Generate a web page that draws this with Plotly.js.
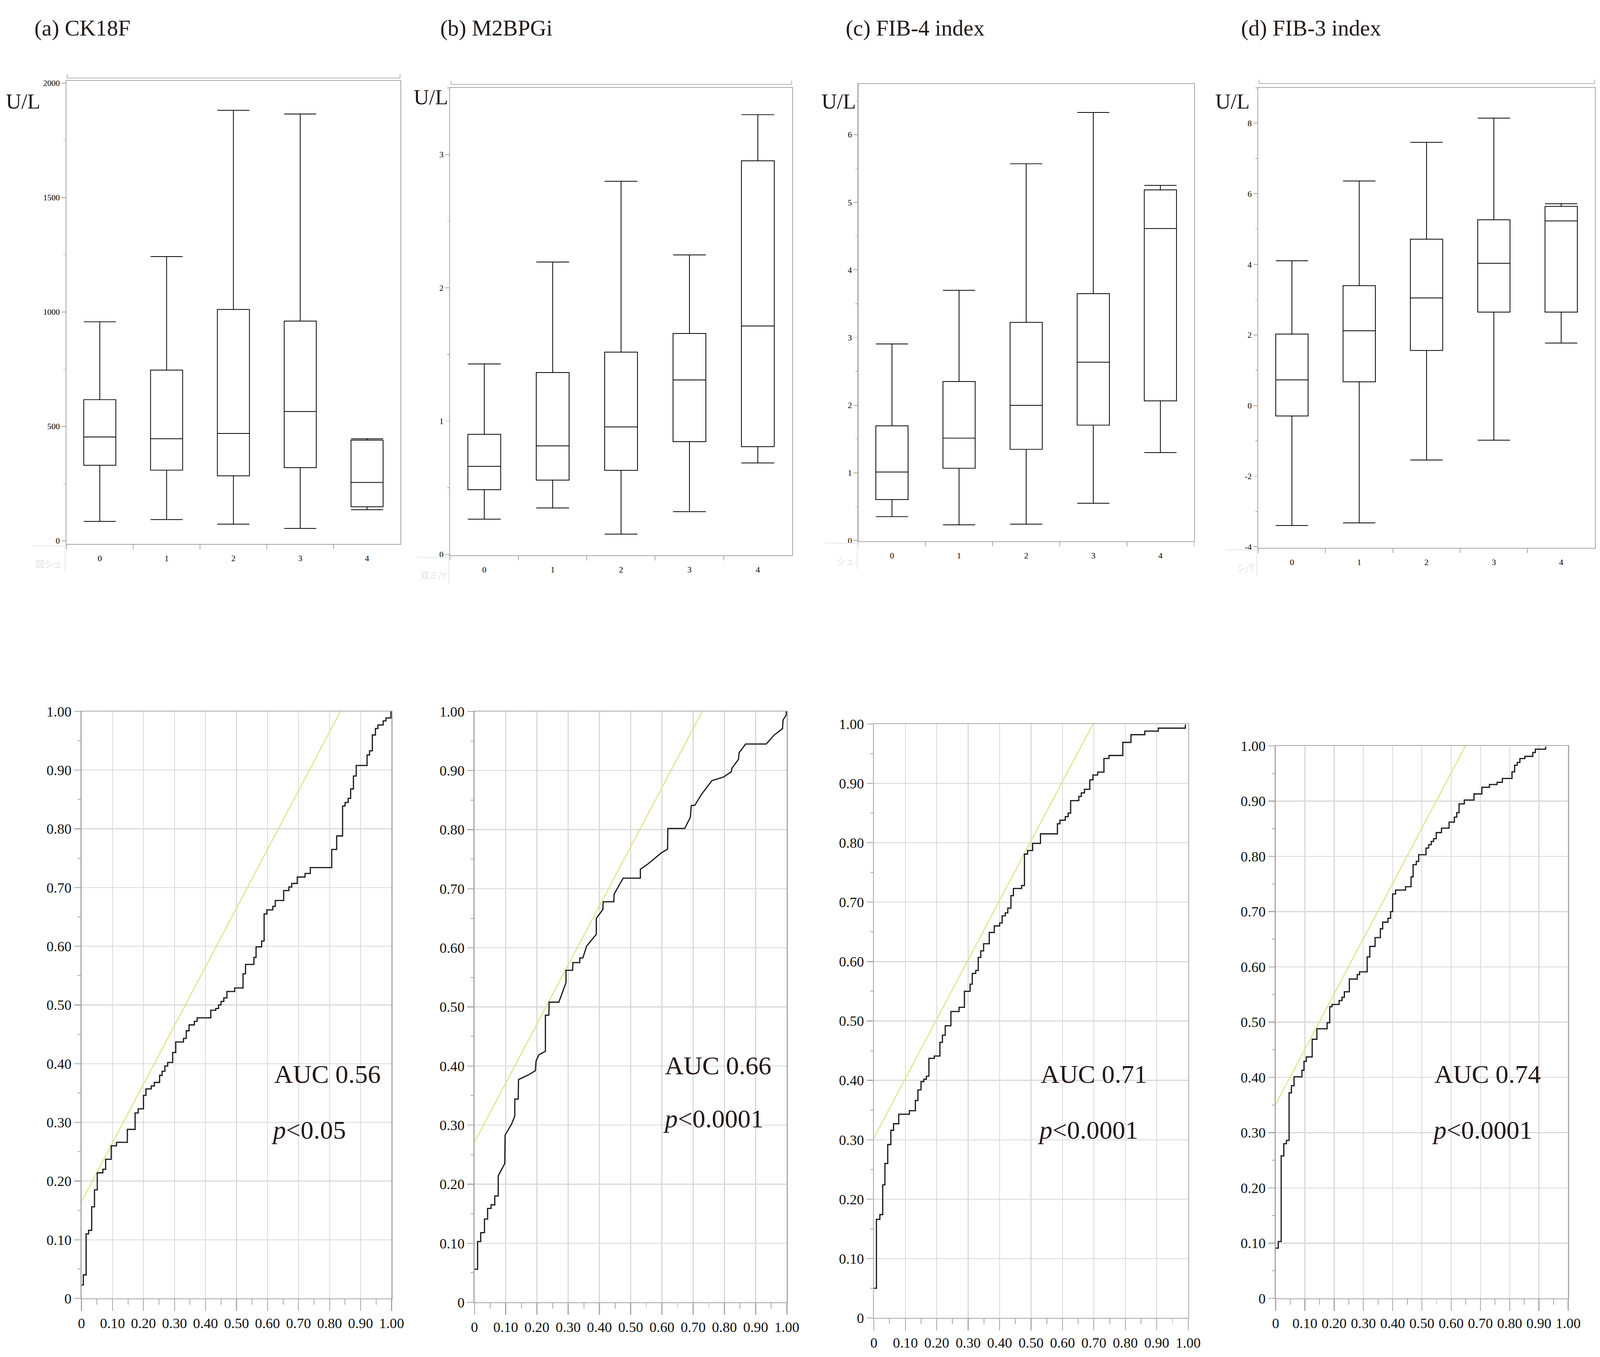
<!DOCTYPE html>
<html>
<head>
<meta charset="utf-8">
<script src="https://cdn.plot.ly/plotly-3.0.1.min.js"></script>
<style>html,body{margin:0;padding:0;background:#fff;overflow:hidden;}#chart{position:absolute;left:0;top:0;}</style>
</head>
<body>
<div id="chart"></div>
<script>
// ---------------- DATA ----------------
const stages = ['0', '1', '2', '3', '4'];
const panelTitles = ['(a) CK18F', '(b) M2BPGi', '(c) FIB-4 index', '(d) FIB-3 index'];
const unitLabel = 'U/L';
const cornerLabels = ['図シェ', '双ミ/т', 'シェ', 'シ/T'];

// (a) CK18F
const ck18f_low = [85, 93, 73, 54, 136];
const ck18f_q1 = [330, 309, 284, 320, 149];
const ck18f_med = [454, 446, 469, 565, 255];
const ck18f_q3 = [617, 746, 1011, 960, 440];
const ck18f_high = [957, 1242, 1881, 1865, 446];
// (b) M2BPGi
const m2bpgi_low = [0.265, 0.349, 0.153, 0.321, 0.687];
const m2bpgi_q1 = [0.486, 0.558, 0.631, 0.846, 0.809];
const m2bpgi_med = [0.661, 0.815, 0.957, 1.309, 1.714];
const m2bpgi_q3 = [0.901, 1.365, 1.518, 1.658, 2.953];
const m2bpgi_high = [1.429, 2.194, 2.799, 2.247, 3.299];
// (c) FIB-4 index
const fib4_low = [0.352, 0.231, 0.242, 0.550, 1.299];
const fib4_q1 = [0.605, 1.068, 1.348, 1.706, 2.064];
const fib4_med = [1.013, 1.514, 1.998, 2.636, 4.612];
const fib4_q3 = [1.695, 2.350, 3.225, 3.649, 5.184];
const fib4_high = [2.906, 3.698, 5.570, 6.329, 5.250];
// (d) FIB-3 index
const fib3_low = [-3.397, -3.323, -1.540, -0.981, 1.772];
const fib3_q1 = [-0.295, 0.675, 1.561, 2.648, 2.648];
const fib3_med = [0.728, 2.120, 3.049, 4.030, 5.232];
const fib3_q3 = [2.025, 3.397, 4.715, 5.264, 5.643];
const fib3_high = [4.103, 6.361, 7.458, 8.143, 5.717];

// box y-axis tick labels
const ck18f_ticks = [0, 500, 1000, 1500, 2000];
const m2bpgi_ticks = [0, 1, 2, 3];
const fib4_ticks = [0, 1, 2, 3, 4, 5, 6];
const fib3_ticks = [-4, -2, 0, 2, 4, 6, 8];
const fib3_ticktext = ['-4', '-2', '0', '2', '4', '6', '8'];

// ROC curves (1 - specificity, sensitivity)
const rocA_fpr = [0, 0.006, 0.015, 0.023, 0.033, 0.042, 0.051, 0.069, 0.078, 0.096,
  0.113, 0.148, 0.173, 0.183, 0.2, 0.208, 0.225, 0.235, 0.252, 0.26,
  0.269, 0.278, 0.294, 0.304, 0.329, 0.338, 0.347, 0.364, 0.373, 0.417,
  0.433, 0.442, 0.45, 0.459, 0.469, 0.494, 0.521, 0.529, 0.556, 0.563,
  0.581, 0.589, 0.598, 0.617, 0.625, 0.652, 0.669, 0.678, 0.696, 0.721,
  0.738, 0.807, 0.823, 0.842, 0.85, 0.86, 0.868, 0.877, 0.886, 0.921,
  0.929, 0.938, 0.948, 0.956, 0.973, 0.982, 0.998];
const rocA_tpr = [0.023, 0.04, 0.11, 0.116, 0.156, 0.185, 0.214, 0.22, 0.237, 0.26,
  0.266, 0.288, 0.316, 0.323, 0.346, 0.357, 0.362, 0.368, 0.38, 0.387,
  0.396, 0.402, 0.419, 0.437, 0.443, 0.456, 0.466, 0.472, 0.478, 0.491,
  0.494, 0.5, 0.506, 0.512, 0.523, 0.529, 0.553, 0.569, 0.581, 0.599,
  0.609, 0.655, 0.662, 0.668, 0.678, 0.695, 0.701, 0.707, 0.718, 0.724,
  0.734, 0.765, 0.788, 0.839, 0.845, 0.852, 0.868, 0.89, 0.908, 0.926,
  0.933, 0.96, 0.971, 0.977, 0.984, 0.989, 1.0];

const rocB_fpr = [0, 0.01, 0.01, 0.02, 0.02, 0.032, 0.032, 0.042, 0.042, 0.053,
  0.053, 0.065, 0.065, 0.076, 0.076, 0.097, 0.098, 0.119, 0.129, 0.129,
  0.14, 0.141, 0.173, 0.195, 0.197, 0.206, 0.227, 0.227, 0.238, 0.239,
  0.27, 0.293, 0.293, 0.314, 0.315, 0.337, 0.337, 0.347, 0.359, 0.39,
  0.39, 0.411, 0.412, 0.446, 0.447, 0.476, 0.531, 0.531, 0.553, 0.599,
  0.618, 0.619, 0.673, 0.691, 0.694, 0.705, 0.727, 0.76, 0.797, 0.822,
  0.824, 0.845, 0.847, 0.868, 0.934, 0.959, 0.986, 0.988, 0.998, 0.998];
const rocB_tpr = [0.056, 0.056, 0.103, 0.103, 0.118, 0.118, 0.141, 0.141, 0.159, 0.159,
  0.165, 0.165, 0.18, 0.18, 0.214, 0.235, 0.283, 0.302, 0.315, 0.344,
  0.344, 0.377, 0.385, 0.392, 0.408, 0.419, 0.425, 0.486, 0.486, 0.508,
  0.508, 0.541, 0.562, 0.562, 0.575, 0.575, 0.583, 0.583, 0.603, 0.623,
  0.65, 0.665, 0.678, 0.678, 0.691, 0.718, 0.718, 0.733, 0.741, 0.761,
  0.767, 0.802, 0.802, 0.821, 0.841, 0.841, 0.86, 0.883, 0.889, 0.898,
  0.904, 0.919, 0.93, 0.945, 0.945, 0.96, 0.971, 0.986, 0.994, 1.0];

const rocC_fpr = [0, 0.008, 0.019, 0.028, 0.035, 0.044, 0.054, 0.0625, 0.079, 0.113,
  0.132, 0.14, 0.15, 0.159, 0.167, 0.175, 0.192, 0.21, 0.218, 0.227,
  0.245, 0.271, 0.288, 0.306, 0.313, 0.324, 0.332, 0.34, 0.349, 0.367,
  0.383, 0.4, 0.408, 0.418, 0.426, 0.436, 0.444, 0.47, 0.479, 0.489,
  0.505, 0.53, 0.584, 0.592, 0.609, 0.618, 0.626, 0.652, 0.66, 0.67,
  0.687, 0.697, 0.712, 0.732, 0.748, 0.792, 0.818, 0.862, 0.905, 0.991];
const rocC_tpr = [0.05, 0.166, 0.174, 0.224, 0.26, 0.292, 0.316, 0.327, 0.343, 0.349,
  0.366, 0.384, 0.398, 0.402, 0.407, 0.437, 0.441, 0.464, 0.476, 0.492,
  0.516, 0.523, 0.55, 0.562, 0.58, 0.585, 0.607, 0.618, 0.63, 0.649,
  0.66, 0.665, 0.677, 0.682, 0.69, 0.711, 0.723, 0.728, 0.781, 0.787,
  0.799, 0.815, 0.832, 0.838, 0.844, 0.85, 0.871, 0.878, 0.884, 0.89,
  0.906, 0.914, 0.919, 0.942, 0.947, 0.969, 0.982, 0.988, 0.993, 0.999];

const rocD_fpr = [0, 0.009, 0.019, 0.028, 0.037, 0.046, 0.054, 0.063, 0.09, 0.097,
  0.105, 0.125, 0.141, 0.176, 0.185, 0.193, 0.217, 0.227, 0.235, 0.252,
  0.279, 0.287, 0.313, 0.322, 0.34, 0.358, 0.366, 0.384, 0.393, 0.4,
  0.41, 0.444, 0.463, 0.47, 0.481, 0.489, 0.514, 0.523, 0.532, 0.54,
  0.549, 0.567, 0.593, 0.611, 0.619, 0.627, 0.645, 0.678, 0.705, 0.731,
  0.757, 0.775, 0.808, 0.817, 0.826, 0.835, 0.852, 0.879, 0.888, 0.923];
const rocD_tpr = [0.091, 0.103, 0.258, 0.28, 0.286, 0.372, 0.385, 0.401, 0.413, 0.429,
  0.437, 0.469, 0.488, 0.499, 0.528, 0.532, 0.539, 0.545, 0.555, 0.578,
  0.586, 0.591, 0.618, 0.637, 0.653, 0.669, 0.681, 0.688, 0.7, 0.732,
  0.739, 0.745, 0.763, 0.785, 0.791, 0.803, 0.815, 0.821, 0.827, 0.832,
  0.843, 0.851, 0.862, 0.871, 0.879, 0.895, 0.902, 0.913, 0.925, 0.93,
  0.934, 0.941, 0.953, 0.965, 0.97, 0.977, 0.981, 0.988, 0.994, 0.999];

// reference (yellow) line intercepts: y = x + b
const refIntercepts = [0.165, 0.271, 0.303, 0.351];
const aucLabels = ['AUC 0.56', 'AUC 0.66', 'AUC 0.71', 'AUC 0.74'];
const pLabels = ['0.05', '0.0001', '0.0001', '0.0001'];

const rocTickVals = [0, 0.1, 0.2, 0.3, 0.4, 0.5, 0.6, 0.7, 0.8, 0.9, 1.0];
const rocTickText = ['0', '0.10', '0.20', '0.30', '0.40', '0.50', '0.60', '0.70', '0.80', '0.90', '1.00'];

// ---------------- LAYOUT ----------------
// design space is 7739 x 3475; the figure fills whatever viewport it gets
const W = 7739, H = 3475;
const VW = window.innerWidth || W, VH = window.innerHeight || H;
const sx = VW / W, sy = VH / H;
const ls = Math.max(0.6, (sx + sy) / 2);   // line scale
// font size: width-matched size when squeezed, compromise size otherwise
function fsz(widthBased, design) { return Math.min(widthBased * sx * 1.08, design * sy); }
document.getElementById('chart').style.width = VW + 'px';
document.getElementById('chart').style.height = VH + 'px';

const SERIF = 'Liberation Serif, Times New Roman, serif';
const TXT = '#231815';
const AX = '#a6a6a6';
function xd(a, b) { return [a / W, b / W]; }
function yd(t, b) { return [1 - b / H, 1 - t / H]; }
function px(v) { return v / W; }
function py(v) { return 1 - v / H; }

const F_TITLE = fsz(100, 92), F_UNIT = fsz(96, 96), F_BOXTICK = fsz(37.5, 34),
      F_ROCTICK = fsz(64, 58), F_AUC = fsz(116, 114), F_CORNER = fsz(40, 38);

const boxPanels = [
  {x: [321, 1937], y: [207, 1393], range: [-13.7, 2010], tv: ck18f_ticks, tt: ck18f_ticks.map(String), minor: 250,
   low: ck18f_low, q1: ck18f_q1, med: ck18f_med, q3: ck18f_q3, high: ck18f_high},
  {x: [2177, 3831], y: [225, 1422], range: [-0.006, 3.5], tv: m2bpgi_ticks, tt: m2bpgi_ticks.map(String), minor: 0.5,
   low: m2bpgi_low, q1: m2bpgi_q1, med: m2bpgi_med, q3: m2bpgi_q3, high: m2bpgi_high},
  {x: [4152, 5775], y: [215, 1386], range: [-0.011, 6.75], tv: fib4_ticks, tt: fib4_ticks.map(String), minor: 0.5,
   low: fib4_low, q1: fib4_q1, med: fib4_med, q3: fib4_q3, high: fib4_high},
  {x: [6086, 7714], y: [225, 1403], range: [-4.03, 9.0], tv: fib3_ticks, tt: fib3_ticktext, minor: 1,
   low: fib3_low, q1: fib3_q1, med: fib3_med, q3: fib3_q3, high: fib3_high}
];
const rocPanels = [
  {x: [394, 1894], y: [1822, 3325], fpr: rocA_fpr, tpr: rocA_tpr, shape: 'hv', aucX: 1322, pX: 1310},
  {x: [2295, 3806], y: [1822, 3335], fpr: rocB_fpr, tpr: rocB_tpr, shape: 'linear', aucX: 3212, pX: 3204},
  {x: [4227, 5747], y: [1854, 3375], fpr: rocC_fpr, tpr: rocC_tpr, shape: 'hv', aucX: 5029, pX: 5016},
  {x: [6170, 7585], y: [1910, 3325], fpr: rocD_fpr, tpr: rocD_tpr, shape: 'hv', aucX: 6935, pX: 6922}
];
const titleX = [162, 2125, 4087, 5999];
const titleMid = 72;                       // vertical centre of the title caps (design px)
const unitX = [25, 1997, 3969, 5875];
const unitMid = [259, 249, 259, 259];
const aucMid = [2750, 2728, 2750, 2750];
const pMid = [2893, 2864, 2893, 2893];

const traces = [];
const layout = {
  width: VW, height: VH,
  margin: {l: 0, r: 0, t: 0, b: 0},
  paper_bgcolor: '#ffffff', plot_bgcolor: '#ffffff',
  showlegend: false,
  font: {family: SERIF, color: '#000'},
  annotations: [], shapes: []
};

boxPanels.forEach((p, i) => {
  const n = i + 1;
  const sfx = n === 1 ? '' : String(n);
  traces.push({
    type: 'box', x: stages, q1: p.q1, median: p.med, q3: p.q3,
    lowerfence: p.low, upperfence: p.high,
    xaxis: 'x' + sfx, yaxis: 'y' + sfx,
    boxpoints: false, width: 0.48, whiskerwidth: 1,
    fillcolor: 'rgba(255,255,255,0)', line: {color: '#000', width: 2.6 * ls},
    hoverinfo: 'skip'
  });
  layout['xaxis' + sfx] = {
    domain: xd(p.x[0], p.x[1]), anchor: 'y' + sfx,
    type: 'category', range: [-0.5, 4.5], tickson: 'boundaries',
    ticks: 'outside', ticklen: 11 * sy, tickwidth: 2.5 * ls, tickcolor: AX,
    showline: true, linecolor: AX, linewidth: 3 * ls, mirror: true, showgrid: false, zeroline: false,
    tickfont: {family: SERIF, size: F_BOXTICK, color: '#000'}, ticklabelstandoff: 16 * sy
  };
  layout['yaxis' + sfx] = {
    domain: yd(p.y[0], p.y[1]), anchor: 'x' + sfx,
    range: p.range, tickmode: 'array', tickvals: p.tv, ticktext: p.tt,
    ticks: 'outside', ticklen: 19 * sx, tickwidth: 2.5 * ls, tickcolor: AX,
    minor: {tickmode: 'linear', tick0: 0, dtick: p.minor, ticks: 'outside', ticklen: 10 * sx, tickwidth: 2 * ls, tickcolor: AX, showgrid: false},
    showline: true, linecolor: AX, linewidth: 3 * ls, mirror: true, showgrid: false, zeroline: false,
    tickfont: {family: SERIF, size: F_BOXTICK, color: '#000'}
  };
  layout.annotations.push({xref: 'paper', yref: 'paper', x: px(titleX[i]), y: py(titleMid), xanchor: 'left', yanchor: 'middle',
    text: panelTitles[i], showarrow: false, font: {family: SERIF, size: F_TITLE, color: TXT}});
  layout.annotations.push({xref: 'paper', yref: 'paper', x: px(unitX[i]), y: py(unitMid[i]), xanchor: 'left', yanchor: 'middle',
    text: unitLabel, showarrow: false, font: {family: SERIF, size: F_UNIT, color: TXT}});
  layout.annotations.push({xref: 'paper', yref: 'paper', x: px(p.x[0] - 14), y: py(p.y[1] + 50), xanchor: 'right', yanchor: 'middle',
    text: cornerLabels[i], showarrow: false, font: {family: 'Noto Sans CJK JP, sans-serif', size: F_CORNER, color: '#e3e3e3'}});
  layout.shapes.push({type: 'path', xref: 'paper', yref: 'paper',
    path: 'M ' + px(p.x[0] - 160) + ' ' + py(p.y[1] + 5) + ' L ' + px(p.x[0] - 6) + ' ' + py(p.y[1] + 5) + ' L ' + px(p.x[0] - 6) + ' ' + py(p.y[1] + 72),
    line: {color: '#e6e6e6', width: 2.5 * ls}});
});
// extra frame line above box panels (a), (b), (d)
[[0, 200], [1, 216], [3, 214]].forEach(([i, yy]) => {
  const p = boxPanels[i];
  layout.shapes.push({type: 'path', xref: 'paper', yref: 'paper',
    path: 'M ' + px(p.x[0] + 4) + ' ' + py(yy - 10) + ' L ' + px(p.x[0] + 4) + ' ' + py(yy) + ' L ' + px(p.x[1] - 2) + ' ' + py(yy) + ' L ' + px(p.x[1] - 2) + ' ' + py(yy - 10),
    line: {color: '#b3b3b3', width: 2.5 * ls}});
});

rocPanels.forEach((p, i) => {
  const n = i + 5;
  const xr = 'x' + n, yr = 'y' + n;
  const b = refIntercepts[i];
  traces.push({type: 'scatter', mode: 'lines', x: [0, 1 - b], y: [b, 1], xaxis: xr, yaxis: yr,
    line: {color: '#e6df86', width: 3.5 * ls}, hoverinfo: 'skip'});
  traces.push({type: 'scatter', mode: 'lines', x: p.fpr, y: p.tpr, xaxis: xr, yaxis: yr,
    line: {color: '#1a1a1a', width: 4 * ls, shape: p.shape}, hoverinfo: 'skip'});
  const common = {
    range: [0, 1], tickmode: 'array', tickvals: rocTickVals, ticktext: rocTickText,
    ticks: 'outside', tickwidth: 3 * ls, tickcolor: AX,
    showgrid: true, gridcolor: '#d9d9d9', gridwidth: 3 * ls,
    showline: true, linecolor: AX, linewidth: 3 * ls, mirror: true, zeroline: false,
    tickfont: {family: SERIF, size: F_ROCTICK, color: '#111'}
  };
  layout['xaxis' + n] = Object.assign({}, common, {
    domain: xd(p.x[0], p.x[1]), anchor: yr, ticklen: 30 * sy,
    minor: {tickmode: 'linear', tick0: 0.05, dtick: 0.1, ticks: 'outside', ticklen: 14 * sy, tickwidth: 2.5 * ls, tickcolor: AX, showgrid: false}
  });
  layout['yaxis' + n] = Object.assign({}, common, {
    domain: yd(p.y[0], p.y[1]), anchor: xr, ticklen: 30 * sx,
    minor: {tickmode: 'linear', tick0: 0.05, dtick: 0.1, ticks: 'outside', ticklen: 14 * sx, tickwidth: 2.5 * ls, tickcolor: AX, showgrid: false}
  });
  layout.annotations.push({xref: 'paper', yref: 'paper', x: px(p.aucX), y: py(aucMid[i]), xanchor: 'left', yanchor: 'middle',
    text: aucLabels[i], showarrow: false, font: {family: SERIF, size: F_AUC, color: TXT}});
  layout.annotations.push({xref: 'paper', yref: 'paper', x: px(p.pX), y: py(pMid[i]), xanchor: 'left', yanchor: 'middle',
    text: '<i>p</i>&lt;' + pLabels[i], showarrow: false, font: {family: SERIF, size: F_AUC, color: TXT}});
});

Plotly.newPlot('chart', traces, layout, {staticPlot: true, displayModeBar: false});
</script>
</body>
</html>
